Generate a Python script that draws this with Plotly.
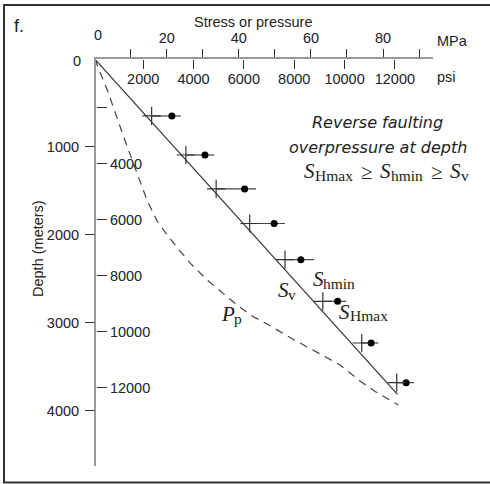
import plotly.graph_objects as go

# ---------------- data ----------------
# lithostatic (vertical) stress line, MPa vs depth (m)
sv_depth = [0, 3815]
sv_mpa = [0, 84.0]

# pore pressure curve
pp_depth = [0, 375, 864, 1308, 1604, 1842, 2013, 2184, 2331, 2513, 2650, 2798,
            2928, 3031, 3150, 3309, 3480, 3662, 3781, 3935]
pp_mpa = [0, 3.7, 7.85, 11.74, 14.5, 17.3, 20.3, 23.7, 26.7, 31.2, 35.3, 39.5,
          43.9, 48.6, 53.4, 60.6, 68.1, 73.6, 77.8, 84.2]

# stress measurements
pt_depth = [648, 1092, 1478, 1871, 2282, 2756, 3230, 3681]
shmin_mpa = [15.8, 25.3, 33.7, 43.0, 52.8, 63.3, 74.1, 83.8]
shmax_mpa = [21.4, 30.6, 41.6, 49.8, 57.2, 67.4, 76.7, 86.4]
shmax_upper = [23.9, 33.2, 44.8, 52.8, 60.9, 69.8, 78.7, 88.6]

# axes
mpa_ticks = [20, 40, 60, 80]
mpa_text = ["20", "40", "60", "80"]
mpa_minor = [10, 30, 50, 70, 90]
psi_ticks = [2000, 4000, 6000, 8000, 10000, 12000]
psi_text = ["2000", "4000", "6000", "8000", "10000", "12000"]
m_ticks = [1000, 2000, 3000, 4000]
m_text = ["1000", "2000", "3000", "4000"]
ft_ticks = [4000, 6000, 8000, 10000, 12000]
ft_text = ["4000", "6000", "8000", "10000", "12000"]
ft_minor = [2000]

W, H = 490, 484
L, R, T, B = 96, 57, 59, 18
pw, ph = W - L - R, H - T - B


def px(x):
    return (x - L) / pw


def py(y):
    return 1 - (y - T) / ph


SANS = "Liberation Sans, Arial, sans-serif"
SERIF = "Liberation Serif, Times New Roman, serif"
tickfont = dict(family=SANS, size=14.5, color="#222")

fig = go.Figure()

fig.add_trace(go.Scatter(x=pp_mpa, y=pp_depth, mode="lines",
                         line=dict(color="#444", width=1.2, dash="8px,6px"),
                         hoverinfo="skip", showlegend=False))
fig.add_trace(go.Scatter(x=sv_mpa, y=sv_depth, mode="lines",
                         line=dict(color="#333", width=1.2),
                         hoverinfo="skip", showlegend=False))
fig.add_trace(go.Scatter(
    x=shmax_mpa, y=pt_depth, mode="markers",
    marker=dict(color="black", size=7),
    error_x=dict(type="data", symmetric=False,
                 array=[u - d for u, d in zip(shmax_upper, shmax_mpa)],
                 arrayminus=[d - c for d, c in zip(shmax_mpa, shmin_mpa)],
                 color="#444", thickness=1.2, width=0),
    showlegend=False))
fig.add_trace(go.Scatter(
    x=shmin_mpa, y=pt_depth, mode="markers",
    marker=dict(symbol="cross-thin", size=13, line=dict(color="#333", width=1.2)),
    showlegend=False))
# dummy trace to carry the secondary (psi / feet) axes
fig.add_trace(go.Scatter(x=[None], y=[None], xaxis="x2", yaxis="y2",
                         showlegend=False, hoverinfo="skip"))

tk = dict(ticks="outside", tickwidth=1.2, tickcolor="#333",
          showgrid=False, zeroline=False, tickfont=tickfont)

fig.update_layout(
    width=W, height=H, autosize=False,
    margin=dict(l=L, r=R, t=T, b=B),
    paper_bgcolor="white", plot_bgcolor="white",
    xaxis=dict(side="top", range=[0.36, 93.87], domain=[0, 1],
               tickvals=mpa_ticks, ticktext=mpa_text, ticklen=8,
               minor=dict(tickvals=mpa_minor, ticks="outside", ticklen=8,
                          tickwidth=1.2, tickcolor="#333", showgrid=False),
               showline=True, linecolor="#999", linewidth=1.5, **tk),
    xaxis2=dict(overlaying="x", side="bottom", anchor="free", position=1,
                range=[125, 13514], tickvals=psi_ticks, ticktext=psi_text,
                ticklen=9, showline=False, ticklabelstandoff=-2, **tk),
    yaxis=dict(range=[4629, 0], domain=[0, 1], tickvals=m_ticks,
               ticktext=m_text, ticklen=9, showline=True, linecolor="#999",
               linewidth=2, ticklabelstandoff=3, **tk),
    yaxis2=dict(overlaying="y", side="right", anchor="free", position=0,
                range=[14789, 254], tickvals=ft_ticks, ticktext=ft_text,
                ticklen=10, showline=False,
                minor=dict(tickvals=ft_minor, ticks="outside", ticklen=10,
                           tickwidth=1.2, tickcolor="#333", showgrid=False),
                **tk),
)

ann = []


def add(text, x, y, font, xanchor="center", yanchor="middle", angle=0):
    ann.append(dict(text=text, x=px(x), y=py(y), xref="paper", yref="paper",
                    showarrow=False, xanchor=xanchor, yanchor=yanchor,
                    font=font, textangle=angle, borderpad=0))


lab = dict(family=SANS, size=14.5, color="#222")
add("Stress or pressure", 252.5, 22, lab)
add("MPa", 436, 41.5, lab, xanchor="left")
add("psi", 436, 76.5, lab, xanchor="left")
add("0", 98, 35, lab)
add("0", 82, 61, lab, xanchor="right")
add("f.", 19, 26, dict(family=SANS, size=18, color="#222"))
add("Depth (meters)", 38, 249, lab, angle=-90)

ital = dict(family="DejaVu Sans, sans-serif", size=16, color="#222", style="italic")
add("Reverse faulting", 377.5, 123, ital)
add("overpressure at depth", 377.5, 147, ital)

# ---- symbols: italic capital with roman subscript, built piecewise ----
BIG, SMALL = 21, 15.5
EM = {"S": 0.5, "P": 0.611, "H": 0.722, "m": 0.778, "a": 0.444, "x": 0.5,
      "h": 0.5, "i": 0.278, "n": 0.5, "v": 0.5, "p": 0.5, "≥": 0.549}


def width(s, size):
    return sum(EM[c] for c in s) * size


def symbol(cap, sub, x, yc):
    """place italic cap at left x / centre yc, subscript right after it"""
    add(cap, x, yc, dict(family=SERIF, size=BIG, color="#222", style="italic"),
        xanchor="left")
    add(sub, x + width(cap, BIG), yc + 4,
        dict(family=SERIF, size=SMALL, color="#222"), xanchor="left")
    return x + width(cap, BIG) + width(sub, SMALL)


symbol("S", "v", 276.7, 290)
symbol("S", "hmin", 311.7, 279)
symbol("S", "Hmax", 338.3, 311.7)
symbol("P", "p", 220, 314)

# inequality line: S_Hmax ≥ S_hmin ≥ S_v
gap = 8
xx = symbol("S", "Hmax", 303.3, 171)
for sub in ["hmin", "v"]:
    add("≥", xx + gap, 172, dict(family=SERIF, size=BIG, color="#222"),
        xanchor="left")
    xx = symbol("S", sub, xx + gap + width("≥", BIG) + gap, 171)

fig.update_layout(annotations=ann)

# outer frame
fig.add_shape(type="rect", xref="paper", yref="paper",
              x0=px(4), x1=px(495), y0=py(482.5), y1=py(5),
              line=dict(color="#333", width=2), layer="below")

fig.write_html("out.html")
